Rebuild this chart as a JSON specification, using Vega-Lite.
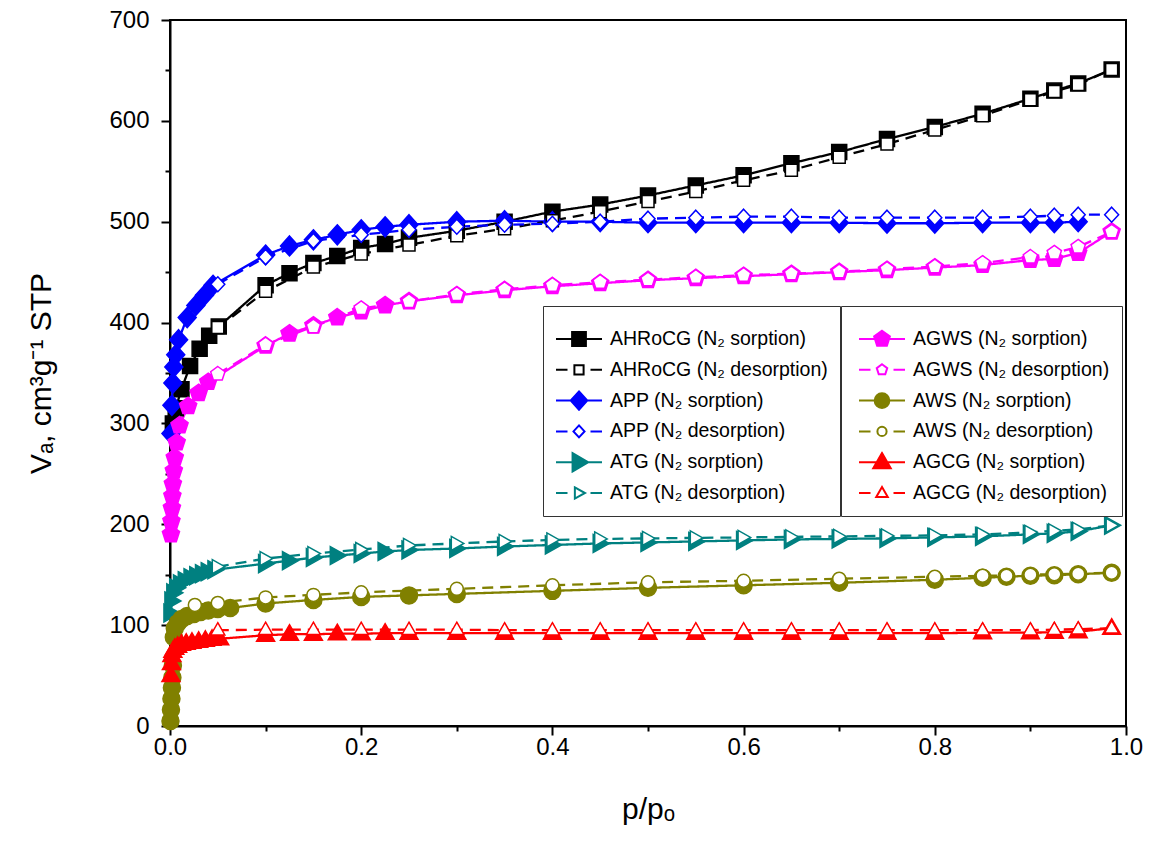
{
  "$schema": "https://vega.github.io/schema/vega-lite/v6.json",
  "width": 956,
  "height": 706,
  "autosize": "none",
  "padding": {"left": 170, "top": 20, "right": 27, "bottom": 128},
  "background": "white",
  "config": {
    "font": "Liberation Sans",
    "view": {"stroke": "black", "strokeWidth": 2},
    "axis": {"grid": false, "domainColor": "black", "domainWidth": 2, "tickColor": "black", "tickWidth": 2,
             "labelColor": "black", "labelFont": "Liberation Sans", "labelFontSize": 24,
             "titleColor": "black", "titleFont": "Liberation Sans", "titleFontWeight": "normal"},
    "legend": {"orient": "none", "padding": 12, "strokeColor": "#333333", "fillColor": "white",
               "titleFontSize": 9, "titlePadding": 1,
               "clipHeight": 22, "rowPadding": 8.8, "symbolSize": 2116, "symbolStrokeWidth": 2,
               "labelOffset": 7, "labelFontSize": 19.5, "labelFont": "Liberation Sans", "labelColor": "black", "labelLimit": 400}
  },
  "resolve": {"scale": {"shape": "independent", "fill": "independent", "stroke": "independent"}},
  "data": {"values": [
    {"s":"AHRoCG-s","b":"sorption","p":0.003,"v":300},{"s":"AHRoCG-s","b":"sorption","p":0.006,"v":315},{"s":"AHRoCG-s","b":"sorption","p":0.012,"v":334},{"s":"AHRoCG-s","b":"sorption","p":0.021,"v":357},{"s":"AHRoCG-s","b":"sorption","p":0.031,"v":374},{"s":"AHRoCG-s","b":"sorption","p":0.041,"v":387},{"s":"AHRoCG-s","b":"sorption","p":0.051,"v":396},{"s":"AHRoCG-s","b":"sorption","p":0.1,"v":437},{"s":"AHRoCG-s","b":"sorption","p":0.125,"v":449},{"s":"AHRoCG-s","b":"sorption","p":0.15,"v":459},{"s":"AHRoCG-s","b":"sorption","p":0.175,"v":466},{"s":"AHRoCG-s","b":"sorption","p":0.2,"v":474},{"s":"AHRoCG-s","b":"sorption","p":0.225,"v":478},{"s":"AHRoCG-s","b":"sorption","p":0.25,"v":484},{"s":"AHRoCG-s","b":"sorption","p":0.3,"v":491},{"s":"AHRoCG-s","b":"sorption","p":0.35,"v":500},{"s":"AHRoCG-s","b":"sorption","p":0.4,"v":510},{"s":"AHRoCG-s","b":"sorption","p":0.45,"v":517},{"s":"AHRoCG-s","b":"sorption","p":0.5,"v":526},{"s":"AHRoCG-s","b":"sorption","p":0.55,"v":536},{"s":"AHRoCG-s","b":"sorption","p":0.6,"v":546},{"s":"AHRoCG-s","b":"sorption","p":0.65,"v":558},{"s":"AHRoCG-s","b":"sorption","p":0.7,"v":569},{"s":"AHRoCG-s","b":"sorption","p":0.75,"v":582},{"s":"AHRoCG-s","b":"sorption","p":0.8,"v":594},{"s":"AHRoCG-s","b":"sorption","p":0.85,"v":607},{"s":"AHRoCG-s","b":"sorption","p":0.9,"v":622},{"s":"AHRoCG-s","b":"sorption","p":0.925,"v":630},{"s":"AHRoCG-s","b":"sorption","p":0.95,"v":637},{"s":"AHRoCG-s","b":"sorption","p":0.985,"v":651},

    {"s":"APP-s","b":"sorption","p":0.001,"v":290},{"s":"APP-s","b":"sorption","p":0.002,"v":318},{"s":"APP-s","b":"sorption","p":0.003,"v":340},{"s":"APP-s","b":"sorption","p":0.004,"v":356},{"s":"APP-s","b":"sorption","p":0.006,"v":368},{"s":"APP-s","b":"sorption","p":0.009,"v":383},{"s":"APP-s","b":"sorption","p":0.018,"v":405},{"s":"APP-s","b":"sorption","p":0.027,"v":417},{"s":"APP-s","b":"sorption","p":0.036,"v":427},{"s":"APP-s","b":"sorption","p":0.045,"v":437},{"s":"APP-s","b":"sorption","p":0.1,"v":467},{"s":"APP-s","b":"sorption","p":0.125,"v":476},{"s":"APP-s","b":"sorption","p":0.15,"v":482},{"s":"APP-s","b":"sorption","p":0.175,"v":487},{"s":"APP-s","b":"sorption","p":0.2,"v":492},{"s":"APP-s","b":"sorption","p":0.225,"v":495},{"s":"APP-s","b":"sorption","p":0.25,"v":497},{"s":"APP-s","b":"sorption","p":0.3,"v":500},{"s":"APP-s","b":"sorption","p":0.35,"v":501},{"s":"APP-s","b":"sorption","p":0.4,"v":500},{"s":"APP-s","b":"sorption","p":0.45,"v":500},{"s":"APP-s","b":"sorption","p":0.5,"v":499},{"s":"APP-s","b":"sorption","p":0.55,"v":499},{"s":"APP-s","b":"sorption","p":0.6,"v":499},{"s":"APP-s","b":"sorption","p":0.65,"v":499},{"s":"APP-s","b":"sorption","p":0.7,"v":499},{"s":"APP-s","b":"sorption","p":0.75,"v":498.5},{"s":"APP-s","b":"sorption","p":0.8,"v":498.5},{"s":"APP-s","b":"sorption","p":0.85,"v":499},{"s":"APP-s","b":"sorption","p":0.9,"v":499},{"s":"APP-s","b":"sorption","p":0.925,"v":499},{"s":"APP-s","b":"sorption","p":0.95,"v":500},

    {"s":"ATG-s","b":"sorption","p":0.001,"v":112},{"s":"ATG-s","b":"sorption","p":0.002,"v":124},{"s":"ATG-s","b":"sorption","p":0.004,"v":132},{"s":"ATG-s","b":"sorption","p":0.007,"v":137},{"s":"ATG-s","b":"sorption","p":0.011,"v":141},{"s":"ATG-s","b":"sorption","p":0.016,"v":144},{"s":"ATG-s","b":"sorption","p":0.022,"v":147},{"s":"ATG-s","b":"sorption","p":0.028,"v":149},{"s":"ATG-s","b":"sorption","p":0.034,"v":151},{"s":"ATG-s","b":"sorption","p":0.04,"v":153},{"s":"ATG-s","b":"sorption","p":0.047,"v":155},{"s":"ATG-s","b":"sorption","p":0.1,"v":161},{"s":"ATG-s","b":"sorption","p":0.125,"v":164},{"s":"ATG-s","b":"sorption","p":0.15,"v":167},{"s":"ATG-s","b":"sorption","p":0.175,"v":169},{"s":"ATG-s","b":"sorption","p":0.2,"v":171},{"s":"ATG-s","b":"sorption","p":0.225,"v":173},{"s":"ATG-s","b":"sorption","p":0.25,"v":174.5},{"s":"ATG-s","b":"sorption","p":0.3,"v":176},{"s":"ATG-s","b":"sorption","p":0.35,"v":178},{"s":"ATG-s","b":"sorption","p":0.4,"v":179.5},{"s":"ATG-s","b":"sorption","p":0.45,"v":181},{"s":"ATG-s","b":"sorption","p":0.5,"v":182},{"s":"ATG-s","b":"sorption","p":0.55,"v":183},{"s":"ATG-s","b":"sorption","p":0.6,"v":184},{"s":"ATG-s","b":"sorption","p":0.65,"v":185},{"s":"ATG-s","b":"sorption","p":0.7,"v":185.5},{"s":"ATG-s","b":"sorption","p":0.75,"v":186},{"s":"ATG-s","b":"sorption","p":0.8,"v":187},{"s":"ATG-s","b":"sorption","p":0.85,"v":188},{"s":"ATG-s","b":"sorption","p":0.9,"v":190},{"s":"ATG-s","b":"sorption","p":0.925,"v":191},{"s":"ATG-s","b":"sorption","p":0.95,"v":193},{"s":"ATG-s","b":"sorption","p":0.985,"v":199},

    {"s":"AGWS-s","b":"sorption","p":0.001,"v":190},{"s":"AGWS-s","b":"sorption","p":0.0015,"v":203},{"s":"AGWS-s","b":"sorption","p":0.002,"v":216},{"s":"AGWS-s","b":"sorption","p":0.0025,"v":228},{"s":"AGWS-s","b":"sorption","p":0.003,"v":240},{"s":"AGWS-s","b":"sorption","p":0.004,"v":253},{"s":"AGWS-s","b":"sorption","p":0.005,"v":266},{"s":"AGWS-s","b":"sorption","p":0.007,"v":281},{"s":"AGWS-s","b":"sorption","p":0.01,"v":298},{"s":"AGWS-s","b":"sorption","p":0.019,"v":317},{"s":"AGWS-s","b":"sorption","p":0.03,"v":330},{"s":"AGWS-s","b":"sorption","p":0.04,"v":341},{"s":"AGWS-s","b":"sorption","p":0.1,"v":377},{"s":"AGWS-s","b":"sorption","p":0.125,"v":389},{"s":"AGWS-s","b":"sorption","p":0.15,"v":397},{"s":"AGWS-s","b":"sorption","p":0.175,"v":405},{"s":"AGWS-s","b":"sorption","p":0.2,"v":411},{"s":"AGWS-s","b":"sorption","p":0.225,"v":417},{"s":"AGWS-s","b":"sorption","p":0.25,"v":421},{"s":"AGWS-s","b":"sorption","p":0.3,"v":427},{"s":"AGWS-s","b":"sorption","p":0.35,"v":432},{"s":"AGWS-s","b":"sorption","p":0.4,"v":436},{"s":"AGWS-s","b":"sorption","p":0.45,"v":439},{"s":"AGWS-s","b":"sorption","p":0.5,"v":442},{"s":"AGWS-s","b":"sorption","p":0.55,"v":444},{"s":"AGWS-s","b":"sorption","p":0.6,"v":446},{"s":"AGWS-s","b":"sorption","p":0.65,"v":448},{"s":"AGWS-s","b":"sorption","p":0.7,"v":450},{"s":"AGWS-s","b":"sorption","p":0.75,"v":452},{"s":"AGWS-s","b":"sorption","p":0.8,"v":454.5},{"s":"AGWS-s","b":"sorption","p":0.85,"v":457},{"s":"AGWS-s","b":"sorption","p":0.9,"v":462},{"s":"AGWS-s","b":"sorption","p":0.925,"v":463},{"s":"AGWS-s","b":"sorption","p":0.95,"v":469},{"s":"AGWS-s","b":"sorption","p":0.985,"v":490},

    {"s":"AWS-s","b":"sorption","p":0.0005,"v":5},{"s":"AWS-s","b":"sorption","p":0.001,"v":16},{"s":"AWS-s","b":"sorption","p":0.0015,"v":27},{"s":"AWS-s","b":"sorption","p":0.002,"v":38},{"s":"AWS-s","b":"sorption","p":0.0025,"v":48},{"s":"AWS-s","b":"sorption","p":0.003,"v":60},{"s":"AWS-s","b":"sorption","p":0.004,"v":88},{"s":"AWS-s","b":"sorption","p":0.005,"v":97},{"s":"AWS-s","b":"sorption","p":0.008,"v":102},{"s":"AWS-s","b":"sorption","p":0.012,"v":106},{"s":"AWS-s","b":"sorption","p":0.018,"v":109},{"s":"AWS-s","b":"sorption","p":0.025,"v":111},{"s":"AWS-s","b":"sorption","p":0.032,"v":113},{"s":"AWS-s","b":"sorption","p":0.04,"v":114.5},{"s":"AWS-s","b":"sorption","p":0.05,"v":116},{"s":"AWS-s","b":"sorption","p":0.063,"v":117},{"s":"AWS-s","b":"sorption","p":0.1,"v":121.5},{"s":"AWS-s","b":"sorption","p":0.15,"v":125},{"s":"AWS-s","b":"sorption","p":0.2,"v":128},{"s":"AWS-s","b":"sorption","p":0.25,"v":129.5},{"s":"AWS-s","b":"sorption","p":0.3,"v":131},{"s":"AWS-s","b":"sorption","p":0.4,"v":134},{"s":"AWS-s","b":"sorption","p":0.5,"v":137},{"s":"AWS-s","b":"sorption","p":0.6,"v":139.5},{"s":"AWS-s","b":"sorption","p":0.7,"v":142},{"s":"AWS-s","b":"sorption","p":0.8,"v":145},{"s":"AWS-s","b":"sorption","p":0.85,"v":147},{"s":"AWS-s","b":"sorption","p":0.875,"v":148},{"s":"AWS-s","b":"sorption","p":0.9,"v":149},{"s":"AWS-s","b":"sorption","p":0.925,"v":149.5},{"s":"AWS-s","b":"sorption","p":0.95,"v":150.5},{"s":"AWS-s","b":"sorption","p":0.985,"v":152},

    {"s":"AGCG-s","b":"sorption","p":0.001,"v":50},{"s":"AGCG-s","b":"sorption","p":0.0015,"v":62},{"s":"AGCG-s","b":"sorption","p":0.002,"v":70},{"s":"AGCG-s","b":"sorption","p":0.003,"v":74},{"s":"AGCG-s","b":"sorption","p":0.005,"v":77},{"s":"AGCG-s","b":"sorption","p":0.008,"v":79},{"s":"AGCG-s","b":"sorption","p":0.012,"v":81},{"s":"AGCG-s","b":"sorption","p":0.017,"v":82},{"s":"AGCG-s","b":"sorption","p":0.023,"v":83},{"s":"AGCG-s","b":"sorption","p":0.03,"v":84},{"s":"AGCG-s","b":"sorption","p":0.037,"v":85},{"s":"AGCG-s","b":"sorption","p":0.044,"v":86},{"s":"AGCG-s","b":"sorption","p":0.052,"v":86.5},{"s":"AGCG-s","b":"sorption","p":0.1,"v":90},{"s":"AGCG-s","b":"sorption","p":0.125,"v":91},{"s":"AGCG-s","b":"sorption","p":0.15,"v":91},{"s":"AGCG-s","b":"sorption","p":0.175,"v":91.5},{"s":"AGCG-s","b":"sorption","p":0.2,"v":91.5},{"s":"AGCG-s","b":"sorption","p":0.225,"v":92},{"s":"AGCG-s","b":"sorption","p":0.25,"v":92},{"s":"AGCG-s","b":"sorption","p":0.3,"v":92},{"s":"AGCG-s","b":"sorption","p":0.35,"v":92},{"s":"AGCG-s","b":"sorption","p":0.4,"v":92},{"s":"AGCG-s","b":"sorption","p":0.45,"v":92},{"s":"AGCG-s","b":"sorption","p":0.5,"v":92},{"s":"AGCG-s","b":"sorption","p":0.55,"v":92},{"s":"AGCG-s","b":"sorption","p":0.6,"v":92},{"s":"AGCG-s","b":"sorption","p":0.65,"v":92},{"s":"AGCG-s","b":"sorption","p":0.7,"v":92},{"s":"AGCG-s","b":"sorption","p":0.75,"v":92},{"s":"AGCG-s","b":"sorption","p":0.8,"v":92},{"s":"AGCG-s","b":"sorption","p":0.85,"v":92.5},{"s":"AGCG-s","b":"sorption","p":0.9,"v":92.5},{"s":"AGCG-s","b":"sorption","p":0.925,"v":93},{"s":"AGCG-s","b":"sorption","p":0.95,"v":93.5},{"s":"AGCG-s","b":"sorption","p":0.985,"v":97},

    {"s":"AHRoCG-d","b":"desorption","p":0.05,"v":395},{"s":"AHRoCG-d","b":"desorption","p":0.1,"v":431},{"s":"AHRoCG-d","b":"desorption","p":0.15,"v":455},{"s":"AHRoCG-d","b":"desorption","p":0.2,"v":468},{"s":"AHRoCG-d","b":"desorption","p":0.25,"v":477},{"s":"AHRoCG-d","b":"desorption","p":0.3,"v":486},{"s":"AHRoCG-d","b":"desorption","p":0.35,"v":493},{"s":"AHRoCG-d","b":"desorption","p":0.4,"v":501},{"s":"AHRoCG-d","b":"desorption","p":0.45,"v":510},{"s":"AHRoCG-d","b":"desorption","p":0.5,"v":520},{"s":"AHRoCG-d","b":"desorption","p":0.55,"v":530},{"s":"AHRoCG-d","b":"desorption","p":0.6,"v":541},{"s":"AHRoCG-d","b":"desorption","p":0.65,"v":551},{"s":"AHRoCG-d","b":"desorption","p":0.7,"v":564},{"s":"AHRoCG-d","b":"desorption","p":0.75,"v":577},{"s":"AHRoCG-d","b":"desorption","p":0.8,"v":591},{"s":"AHRoCG-d","b":"desorption","p":0.85,"v":605},{"s":"AHRoCG-d","b":"desorption","p":0.9,"v":621},{"s":"AHRoCG-d","b":"desorption","p":0.925,"v":629},{"s":"AHRoCG-d","b":"desorption","p":0.95,"v":636},{"s":"AHRoCG-d","b":"desorption","p":0.985,"v":651},

    {"s":"APP-d","b":"desorption","p":0.05,"v":438},{"s":"APP-d","b":"desorption","p":0.1,"v":465},{"s":"APP-d","b":"desorption","p":0.15,"v":481},{"s":"APP-d","b":"desorption","p":0.2,"v":487},{"s":"APP-d","b":"desorption","p":0.25,"v":492},{"s":"APP-d","b":"desorption","p":0.3,"v":495},{"s":"APP-d","b":"desorption","p":0.35,"v":497},{"s":"APP-d","b":"desorption","p":0.4,"v":498},{"s":"APP-d","b":"desorption","p":0.45,"v":500},{"s":"APP-d","b":"desorption","p":0.5,"v":503},{"s":"APP-d","b":"desorption","p":0.55,"v":504},{"s":"APP-d","b":"desorption","p":0.6,"v":505},{"s":"APP-d","b":"desorption","p":0.65,"v":505},{"s":"APP-d","b":"desorption","p":0.7,"v":504},{"s":"APP-d","b":"desorption","p":0.75,"v":504},{"s":"APP-d","b":"desorption","p":0.8,"v":504},{"s":"APP-d","b":"desorption","p":0.85,"v":504},{"s":"APP-d","b":"desorption","p":0.9,"v":505},{"s":"APP-d","b":"desorption","p":0.925,"v":506},{"s":"APP-d","b":"desorption","p":0.95,"v":507},{"s":"APP-d","b":"desorption","p":0.985,"v":507},

    {"s":"ATG-d","b":"desorption","p":0.05,"v":158},{"s":"ATG-d","b":"desorption","p":0.1,"v":166},{"s":"ATG-d","b":"desorption","p":0.15,"v":171},{"s":"ATG-d","b":"desorption","p":0.2,"v":175},{"s":"ATG-d","b":"desorption","p":0.25,"v":179},{"s":"ATG-d","b":"desorption","p":0.3,"v":181},{"s":"ATG-d","b":"desorption","p":0.35,"v":183},{"s":"ATG-d","b":"desorption","p":0.4,"v":184.5},{"s":"ATG-d","b":"desorption","p":0.45,"v":185.5},{"s":"ATG-d","b":"desorption","p":0.5,"v":186},{"s":"ATG-d","b":"desorption","p":0.55,"v":186.5},{"s":"ATG-d","b":"desorption","p":0.6,"v":187},{"s":"ATG-d","b":"desorption","p":0.65,"v":187.5},{"s":"ATG-d","b":"desorption","p":0.7,"v":188},{"s":"ATG-d","b":"desorption","p":0.75,"v":188.5},{"s":"ATG-d","b":"desorption","p":0.8,"v":189},{"s":"ATG-d","b":"desorption","p":0.85,"v":190},{"s":"ATG-d","b":"desorption","p":0.9,"v":192},{"s":"ATG-d","b":"desorption","p":0.925,"v":193.5},{"s":"ATG-d","b":"desorption","p":0.95,"v":195},{"s":"ATG-d","b":"desorption","p":0.985,"v":199},

    {"s":"AGWS-d","b":"desorption","p":0.05,"v":349},{"s":"AGWS-d","b":"desorption","p":0.1,"v":378},{"s":"AGWS-d","b":"desorption","p":0.15,"v":396},{"s":"AGWS-d","b":"desorption","p":0.2,"v":414},{"s":"AGWS-d","b":"desorption","p":0.25,"v":421},{"s":"AGWS-d","b":"desorption","p":0.3,"v":428},{"s":"AGWS-d","b":"desorption","p":0.35,"v":433},{"s":"AGWS-d","b":"desorption","p":0.4,"v":437},{"s":"AGWS-d","b":"desorption","p":0.45,"v":440},{"s":"AGWS-d","b":"desorption","p":0.5,"v":442.5},{"s":"AGWS-d","b":"desorption","p":0.55,"v":445},{"s":"AGWS-d","b":"desorption","p":0.6,"v":447},{"s":"AGWS-d","b":"desorption","p":0.65,"v":448.5},{"s":"AGWS-d","b":"desorption","p":0.7,"v":450.5},{"s":"AGWS-d","b":"desorption","p":0.75,"v":453},{"s":"AGWS-d","b":"desorption","p":0.8,"v":455.5},{"s":"AGWS-d","b":"desorption","p":0.85,"v":459},{"s":"AGWS-d","b":"desorption","p":0.9,"v":465},{"s":"AGWS-d","b":"desorption","p":0.925,"v":469},{"s":"AGWS-d","b":"desorption","p":0.95,"v":475},{"s":"AGWS-d","b":"desorption","p":0.985,"v":490},

    {"s":"AWS-d","b":"desorption","p":0.026,"v":120},{"s":"AWS-d","b":"desorption","p":0.05,"v":122},{"s":"AWS-d","b":"desorption","p":0.1,"v":127.5},{"s":"AWS-d","b":"desorption","p":0.15,"v":130},{"s":"AWS-d","b":"desorption","p":0.2,"v":132.5},{"s":"AWS-d","b":"desorption","p":0.3,"v":136},{"s":"AWS-d","b":"desorption","p":0.4,"v":139.5},{"s":"AWS-d","b":"desorption","p":0.5,"v":142.5},{"s":"AWS-d","b":"desorption","p":0.6,"v":144},{"s":"AWS-d","b":"desorption","p":0.7,"v":146},{"s":"AWS-d","b":"desorption","p":0.8,"v":148},{"s":"AWS-d","b":"desorption","p":0.85,"v":149},{"s":"AWS-d","b":"desorption","p":0.875,"v":149},{"s":"AWS-d","b":"desorption","p":0.9,"v":150},{"s":"AWS-d","b":"desorption","p":0.925,"v":150.5},{"s":"AWS-d","b":"desorption","p":0.95,"v":151},{"s":"AWS-d","b":"desorption","p":0.985,"v":152},

    {"s":"AGCG-d","b":"desorption","p":0.05,"v":95},{"s":"AGCG-d","b":"desorption","p":0.1,"v":95.5},{"s":"AGCG-d","b":"desorption","p":0.15,"v":95.5},{"s":"AGCG-d","b":"desorption","p":0.2,"v":95.5},{"s":"AGCG-d","b":"desorption","p":0.25,"v":95.5},{"s":"AGCG-d","b":"desorption","p":0.3,"v":95.5},{"s":"AGCG-d","b":"desorption","p":0.35,"v":95},{"s":"AGCG-d","b":"desorption","p":0.4,"v":95},{"s":"AGCG-d","b":"desorption","p":0.45,"v":95},{"s":"AGCG-d","b":"desorption","p":0.5,"v":95},{"s":"AGCG-d","b":"desorption","p":0.55,"v":95},{"s":"AGCG-d","b":"desorption","p":0.6,"v":95},{"s":"AGCG-d","b":"desorption","p":0.65,"v":95},{"s":"AGCG-d","b":"desorption","p":0.7,"v":95},{"s":"AGCG-d","b":"desorption","p":0.75,"v":95},{"s":"AGCG-d","b":"desorption","p":0.8,"v":95},{"s":"AGCG-d","b":"desorption","p":0.85,"v":95},{"s":"AGCG-d","b":"desorption","p":0.9,"v":95},{"s":"AGCG-d","b":"desorption","p":0.925,"v":95.5},{"s":"AGCG-d","b":"desorption","p":0.95,"v":96},{"s":"AGCG-d","b":"desorption","p":0.985,"v":97}
  ]},
  "encoding": {
    "x": {"field": "p", "type": "quantitative",
      "scale": {"domain": [0, 1], "nice": false, "zero": false},
      "axis": {"values": [0, 0.1, 0.2, 0.3, 0.4, 0.5, 0.6, 0.7, 0.8, 0.9, 1],
        "labelExpr": "round(datum.value * 10) % 2 === 0 ? format(datum.value, '.1f') : ''",
        "tickSize": {"condition": {"test": "round(datum.value * 10) % 2 === 0", "value": 9}, "value": 5},
        "labelPadding": 0, "labelFlush": false,
        "title": "p/pₒ", "titleFontSize": 30, "titlePadding": 35}},
    "y": {"field": "v", "type": "quantitative",
      "scale": {"domain": [0, 700], "nice": false},
      "axis": {"values": [0, 50, 100, 150, 200, 250, 300, 350, 400, 450, 500, 550, 600, 650, 700],
        "labelExpr": "datum.value % 100 === 0 ? datum.label : ''",
        "tickSize": {"condition": {"test": "datum.value % 100 === 0", "value": 9}, "value": 5},
        "labelPadding": 12, "labelFlush": false,
        "title": "Vₐ, cm³g⁻¹ STP", "titleFontSize": 30, "titlePadding": 52}}
  },
  "layer": [
    {
      "mark": {"type": "line", "strokeWidth": 2.3},
      "encoding": {
        "stroke": {"field": "s", "type": "nominal", "legend": null,
          "scale": {"domain": ["AHRoCG-s","AHRoCG-d","APP-s","APP-d","ATG-s","ATG-d","AGWS-s","AGWS-d","AWS-s","AWS-d","AGCG-s","AGCG-d"],
                    "range": ["#000000","#000000","#0000FF","#0000FF","#008080","#008080","#FF00FF","#FF00FF","#808000","#808000","#FF0000","#FF0000"]}},
        "strokeDash": {"field": "b", "type": "nominal", "legend": null,
          "scale": {"domain": ["sorption", "desorption"], "range": [[1, 0], [11, 7]]}}
      }
    },
    {
      "mark": {"type": "point", "size": 100, "opacity": 1, "strokeWidth": 1.5},
      "encoding": {
        "shape": {"field": "s", "type": "nominal", "legend": null,
          "scale": {"domain": ["AHRoCG-s","AHRoCG-d","APP-s","APP-d","ATG-s","ATG-d","AGWS-s","AGWS-d","AWS-s","AWS-d","AGCG-s","AGCG-d"],
                    "range": [
                      "M-1.5,-1.5H1.5V1.5H-1.5Z",
                      "M-1.2,-1.2H1.2V1.2H-1.2Z",
                      "M0,-2L1.8,0L0,2L-1.8,0Z",
                      "M0,-1.5L1.4,0L0,1.5L-1.4,0Z",
                      "M-1.4,-1.8L1.8,0L-1.4,1.8Z",
                      "M-1.1,-1.4L1.4,0L-1.1,1.4Z",
                      "M0,-1.8L1.712,-0.556L1.058,1.456L-1.058,1.456L-1.712,-0.556Z",
                      "M0,-1.5L1.427,-0.464L0.882,1.214L-0.882,1.214L-1.427,-0.464Z",
                      "M1.7,0A1.7,1.7 0 1,1 -1.7,0A1.7,1.7 0 1,1 1.7,0Z",
                      "M1.3,0A1.3,1.3 0 1,1 -1.3,0A1.3,1.3 0 1,1 1.3,0Z",
                      "M0,-1.9L1.8,1.2L-1.8,1.2Z",
                      "M0,-1.5L1.4,0.95L-1.4,0.95Z"
                    ]}},
        "fill": {"field": "s", "type": "nominal", "legend": null,
          "scale": {"domain": ["AHRoCG-s","AHRoCG-d","APP-s","APP-d","ATG-s","ATG-d","AGWS-s","AGWS-d","AWS-s","AWS-d","AGCG-s","AGCG-d"],
                    "range": ["#000000","#FFFFFF","#0000FF","#FFFFFF","#008080","#FFFFFF","#FF00FF","#FFFFFF","#808000","#FFFFFF","#FF0000","#FFFFFF"]}},
        "stroke": {"field": "s", "type": "nominal", "legend": null,
          "scale": {"domain": ["AHRoCG-s","AHRoCG-d","APP-s","APP-d","ATG-s","ATG-d","AGWS-s","AGWS-d","AWS-s","AWS-d","AGCG-s","AGCG-d"],
                    "range": ["#000000","#000000","#0000FF","#0000FF","#008080","#008080","#FF00FF","#FF00FF","#808000","#808000","#FF0000","#FF0000"]}}
      }
    },
    {
      "transform": [{"filter": "datum.p > 2"}],
      "mark": {"type": "point", "opacity": 1, "strokeWidth": 2},
      "encoding": {
        "shape": {"field": "s", "type": "nominal",
          "scale": {"domain": ["AHRoCG-s","AHRoCG-d","APP-s","APP-d","ATG-s","ATG-d"],
                    "range": [
                      "M-1,0H1M-0.3,-0.3H0.3V0.3H-0.3Z",
                      "M-1,0H-0.5M0.5,0H1M-0.2,-0.2H0.2V0.2H-0.2Z",
                      "M-1,0H1M0,-0.4L0.36,0L0,0.4L-0.36,0Z",
                      "M-1,0H-0.5M0.5,0H1M0,-0.26L0.24,0L0,0.26L-0.24,0Z",
                      "M-1,0H1M-0.28,-0.4L0.4,0L-0.28,0.4Z",
                      "M-1,0H-0.5M0.5,0H1M-0.18,-0.24L0.26,0L-0.18,0.24Z"
                    ]},
          "legend": {"legendX": 373, "legendY": 286, "title": " ",
            "labelExpr": "replace(replace(datum.value, '-s', ' (N₂ sorption)'), '-d', ' (N₂ desorption)')"}},
        "fill": {"field": "s", "type": "nominal",
          "scale": {"domain": ["AHRoCG-s","AHRoCG-d","APP-s","APP-d","ATG-s","ATG-d"],
                    "range": ["#000000","#FFFFFF","#0000FF","#FFFFFF","#008080","#FFFFFF"]}},
        "stroke": {"field": "s", "type": "nominal",
          "scale": {"domain": ["AHRoCG-s","AHRoCG-d","APP-s","APP-d","ATG-s","ATG-d"],
                    "range": ["#000000","#000000","#0000FF","#0000FF","#008080","#008080"]}}
      }
    },
    {
      "transform": [{"filter": "datum.p > 2"}],
      "mark": {"type": "point", "opacity": 1, "strokeWidth": 2},
      "encoding": {
        "shape": {"field": "s", "type": "nominal",
          "scale": {"domain": ["AGWS-s","AGWS-d","AWS-s","AWS-d","AGCG-s","AGCG-d"],
                    "range": [
                      "M-1,0H1M0,-0.36L0.342,-0.111L0.212,0.291L-0.212,0.291L-0.342,-0.111Z",
                      "M-1,0H-0.5M0.5,0H1M0,-0.24L0.228,-0.074L0.141,0.194L-0.141,0.194L-0.228,-0.074Z",
                      "M-1,0H1M0.32,0A0.32,0.32 0 1,1 -0.32,0A0.32,0.32 0 1,1 0.32,0Z",
                      "M-1,0H-0.5M0.5,0H1M0.2,0A0.2,0.2 0 1,1 -0.2,0A0.2,0.2 0 1,1 0.2,0Z",
                      "M-1,0H1M0,-0.4L0.38,0.26L-0.38,0.26Z",
                      "M-1,0H-0.5M0.5,0H1M0,-0.26L0.25,0.17L-0.25,0.17Z"
                    ]},
          "legend": {"legendX": 671, "legendY": 286, "title": " ", "symbolOffset": 5,
            "labelExpr": "replace(replace(datum.value, '-s', ' (N₂ sorption)'), '-d', ' (N₂ desorption)')"}},
        "fill": {"field": "s", "type": "nominal",
          "scale": {"domain": ["AGWS-s","AGWS-d","AWS-s","AWS-d","AGCG-s","AGCG-d"],
                    "range": ["#FF00FF","#FFFFFF","#808000","#FFFFFF","#FF0000","#FFFFFF"]}},
        "stroke": {"field": "s", "type": "nominal",
          "scale": {"domain": ["AGWS-s","AGWS-d","AWS-s","AWS-d","AGCG-s","AGCG-d"],
                    "range": ["#FF00FF","#FF00FF","#808000","#808000","#FF0000","#FF0000"]}}
      }
    }
  ]
}
